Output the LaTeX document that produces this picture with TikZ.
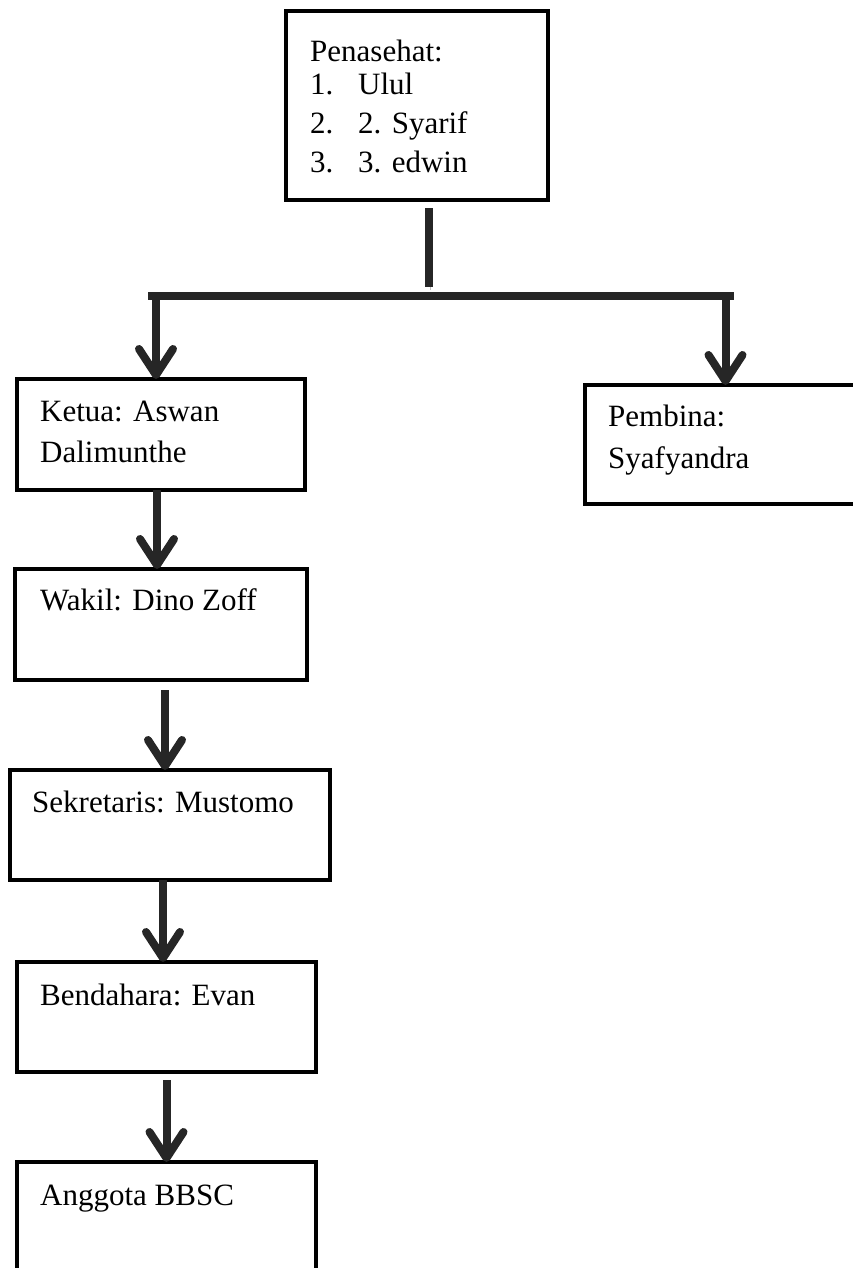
\documentclass[tikz,border=0pt]{standalone}
\usepackage{fontspec}
\setmainfont{Liberation Serif}
\usetikzlibrary{arrows.meta}

\tikzset{
    box/.style={draw, rectangle, inner sep=0pt, outer sep=0pt, anchor=north west, line width=4.5pt},
    txt/.style={anchor=base west, inner sep=0pt, font=\fontsize{31}{40}\selectfont},
    conn/.style={line width=8pt, draw=black!85,
        preaction={draw=gray!50, transform canvas={shift={(1.5pt,-2.5pt)}}}},
    arr/.style={conn, -{Straight Barb[length=26pt, width=34pt, line cap=round, line join=round]}},
}

\begin{document}
\begin{tikzpicture}[x=1pt, y=-1pt]
    \useasboundingbox (0,0) rectangle (853,1268);

    % boxes
    \node[box, minimum width=262pt, minimum height=189pt] (pen) at (286,11) {};
    \node[box, minimum width=288pt, minimum height=111pt] (ketua) at (17,379) {};
    \node[box, minimum width=285pt, minimum height=119pt] (pembina) at (585,385) {};
    \node[box, minimum width=292pt, minimum height=111pt] (wakil) at (15,569) {};
    \node[box, minimum width=320pt, minimum height=110pt] (sek) at (10,770) {};
    \node[box, minimum width=299pt, minimum height=110pt] (bend) at (17,962) {};
    \node[box, minimum width=299pt, minimum height=140pt] (angg) at (17,1162) {};

    % texts
    \node[txt] (pentxt) at (310,62) {Penasehat:};
    \foreach \y/\num/\name [count=\i] in {95/1./Ulul, 134/2./2. Syarif, 173/3./3. edwin} {
        \node[txt] (num\i) at (310,\y) {\num};
        \node[txt] (name\i) at (358,\y) {\name};
    }
    \node[txt] (ketuatxt) at (40,421) {Ketua: Aswan};
    \node[txt] (ketuatxt2) at (40,462) {Dalimunthe};
    \node[txt] (pembinatxt) at (608,426) {Pembina:};
    \node[txt] (pembinatxt2) at (608,468) {Syafyandra};
    \node[txt] (wakiltxt) at (40,610) {Wakil: Dino Zoff};
    \node[txt] (sektxt) at (32,812) {Sekretaris: Mustomo};
    \node[txt] (bendtxt) at (40,1005) {Bendahara: Evan};
    \node[txt] (anggtxt) at (40,1205) {Anggota BBSC};

    % connectors
    \coordinate (fork) at (429,296);
    \coordinate (forkl) at (152,296);
    \coordinate (forkr) at (730,296);
    \draw[conn] ([xshift=12pt, yshift=-8pt]pen.south) -- ([yshift=9pt]fork);
    \draw[conn, line cap=rect] (forkl) -- (forkr);
    \draw[arr] ([xshift=-5pt, yshift=-2pt]forkl -| ketua.north) -- ([xshift=-5pt]ketua.north);
    \draw[arr] ([xshift=-2pt, yshift=-2pt]forkr -| pembina.north) -- ([xshift=-2pt]pembina.north);
    \draw[arr] ([xshift=-4pt]ketua.south) -- ([xshift=-4pt]ketua.south |- wakil.north);
    \draw[arr] ([xshift=4pt, yshift=-10pt]wakil.south) -- ([xshift=4pt]wakil.south |- sek.north);
    \draw[arr] ([xshift=-7pt]sek.south) -- ([xshift=-7pt]sek.south |- bend.north);
    \draw[arr] ([yshift=-8pt]bend.south) -- (bend.south |- angg.north);
\end{tikzpicture}
\end{document}
